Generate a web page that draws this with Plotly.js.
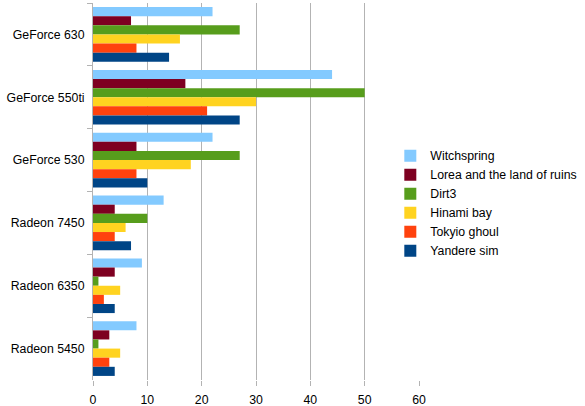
<!DOCTYPE html>
<html>
<head>
<meta charset="utf-8">
<script src="https://cdn.plot.ly/plotly-3.0.1.min.js"></script>
<style>html,body{margin:0;padding:0;background:#fff;}#chart{width:585px;height:406px;}</style>
</head>
<body>
<div id="chart"></div>
<script>
var categories = ["GeForce 630", "GeForce 550ti", "GeForce 530", "Radeon 7450", "Radeon 6350", "Radeon 5450"];
var seriesNames = ["Witchspring", "Lorea and the land of ruins", "Dirt3", "Hinami bay", "Tokyio ghoul", "Yandere sim"];
var witchspring = [22, 44, 22, 13, 9, 8];
var lorea = [7, 17, 8, 4, 4, 3];
var dirt3 = [27, 50, 27, 10, 1, 1];
var hinami = [16, 30, 18, 6, 5, 5];
var tokyio = [8, 21, 8, 4, 2, 3];
var yandere = [14, 27, 10, 7, 4, 4];
var xTicks = [0, 10, 20, 30, 40, 50, 60];

var values = [witchspring, lorea, dirt3, hinami, tokyio, yandere];
var colors = ["#83CAFF", "#7E0021", "#579D1C", "#FFD320", "#FF420E", "#004586"];

var traces = seriesNames.map(function (name, i) {
  return {
    type: "bar",
    orientation: "h",
    name: name,
    y: categories,
    x: values[i],
    marker: { color: colors[i], line: { width: 0 } },
    hoverinfo: "x+name"
  };
});

var layout = {
  width: 585,
  height: 406,
  margin: { l: 93, r: 166, t: 3, b: 26, pad: 0, autoexpand: false },
  paper_bgcolor: "#ffffff",
  plot_bgcolor: "#ffffff",
  font: { family: "Liberation Sans, Arial, sans-serif", size: 12.3, color: "#000000" },
  barmode: "group",
  bargap: 0.13,
  bargroupgap: 0,
  showlegend: true,
  legend: {
    x: 0.912, xanchor: "left", xref: "paper",
    y: 0.469, yanchor: "middle",
    traceorder: "normal",
    font: { size: 12.3, color: "#000000" },
    bgcolor: "rgba(0,0,0,0)",
    itemwidth: 30,
    tracegroupgap: 0
  },
  xaxis: {
    range: [0, 60],
    tickvals: xTicks,
    ticktext: xTicks.map(String),
    showgrid: true,
    gridcolor: "#b3b3b3",
    gridwidth: 1,
    zeroline: false,
    showline: false,
    ticks: "outside",
    ticklen: 5,
    tickcolor: "#b3b3b3",
    ticklabelstandoff: 3,
    tickfont: { size: 12.3, color: "#000000" },
    fixedrange: true
  },
  yaxis: {
    type: "category",
    autorange: "reversed",
    showgrid: false,
    zeroline: false,
    showline: true,
    linecolor: "#b3b3b3",
    linewidth: 1,
    ticks: "outside",
    tickson: "boundaries",
    ticklen: 5,
    tickcolor: "#b3b3b3",
    ticklabelstandoff: 5,
    tickfont: { size: 12.3, color: "#000000" },
    fixedrange: true
  }
};

Plotly.newPlot("chart", traces, layout, { displayModeBar: false, staticPlot: true });
</script>
</body>
</html>
